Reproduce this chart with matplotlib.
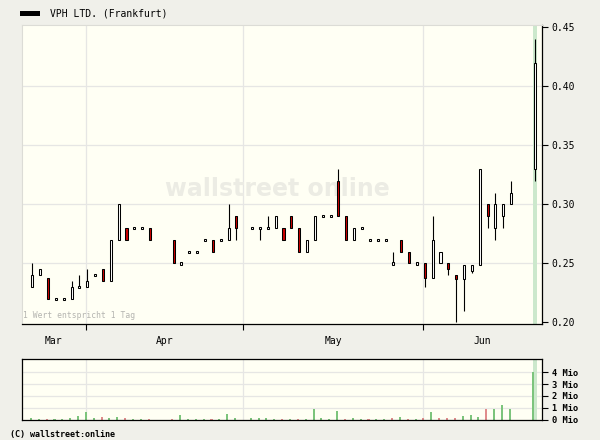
import matplotlib
matplotlib.use("Agg")
import matplotlib.pyplot as plt
from matplotlib.patches import Rectangle
import numpy as np

# trading day slots (gaps = holidays)
slots = [0, 1, 2, 3, 4, 5, 6, 7, 8, 9, 10, 11, 12, 13, 14, 15,
         18, 19, 20, 21, 22, 23, 24, 25, 26,
         28, 29, 30, 31, 32, 33, 34, 35, 36, 37, 38, 39, 40, 41, 42, 43, 44, 45,
         46, 47, 48, 49, 50, 51, 52, 53, 54, 55, 56, 57, 58, 59, 60, 61,
         64]

opens = [0.23, 0.24, 0.238, 0.22, 0.22, 0.22, 0.23, 0.23, 0.24, 0.245, 0.235, 0.27, 0.28, 0.28, 0.28, 0.28,
         0.27, 0.25, 0.26, 0.26, 0.27, 0.27, 0.27, 0.27, 0.29,
         0.28, 0.28, 0.28, 0.28, 0.28, 0.29, 0.28, 0.26, 0.27, 0.29, 0.29, 0.32, 0.29, 0.27, 0.28, 0.27, 0.27, 0.27,
         0.25, 0.27, 0.26, 0.25, 0.25, 0.238, 0.25, 0.25, 0.24, 0.237, 0.244, 0.249, 0.30, 0.28, 0.29, 0.30,
         0.33]
closes = [0.24, 0.245, 0.22, 0.22, 0.22, 0.23, 0.23, 0.235, 0.24, 0.235, 0.27, 0.30, 0.27, 0.28, 0.28, 0.27,
          0.25, 0.25, 0.26, 0.26, 0.27, 0.26, 0.27, 0.28, 0.28,
          0.28, 0.28, 0.28, 0.29, 0.27, 0.28, 0.26, 0.27, 0.29, 0.29, 0.29, 0.29, 0.27, 0.28, 0.28, 0.27, 0.27, 0.27,
          0.25, 0.26, 0.25, 0.25, 0.238, 0.27, 0.26, 0.245, 0.237, 0.249, 0.249, 0.33, 0.29, 0.30, 0.30, 0.31,
          0.42]
highs = [0.25, 0.245, 0.238, 0.22, 0.22, 0.235, 0.24, 0.245, 0.24, 0.245, 0.27, 0.30, 0.28, 0.28, 0.28, 0.28,
         0.27, 0.25, 0.26, 0.26, 0.27, 0.27, 0.27, 0.30, 0.29,
         0.28, 0.28, 0.29, 0.29, 0.28, 0.29, 0.28, 0.27, 0.29, 0.29, 0.29, 0.33, 0.29, 0.28, 0.28, 0.27, 0.27, 0.27,
         0.26, 0.27, 0.26, 0.25, 0.25, 0.29, 0.26, 0.25, 0.24, 0.249, 0.249, 0.33, 0.30, 0.31, 0.30, 0.32,
         0.44]
lows = [0.23, 0.24, 0.22, 0.22, 0.22, 0.22, 0.23, 0.23, 0.24, 0.235, 0.235, 0.27, 0.27, 0.28, 0.28, 0.27,
        0.25, 0.25, 0.26, 0.26, 0.27, 0.26, 0.27, 0.27, 0.27,
        0.28, 0.27, 0.28, 0.28, 0.27, 0.28, 0.26, 0.26, 0.27, 0.29, 0.29, 0.29, 0.27, 0.27, 0.28, 0.27, 0.27, 0.27,
        0.25, 0.26, 0.25, 0.25, 0.23, 0.238, 0.25, 0.24, 0.20, 0.21, 0.242, 0.249, 0.28, 0.27, 0.28, 0.30,
        0.32]

# volume in Mio, 'g' = green bar, 'r' = red bar
volume = [0.17, 0.08, 0.08, 0.08, 0.08, 0.17, 0.34, 0.68, 0.17, 0.25, 0.17, 0.25, 0.17, 0.08, 0.08, 0.08,
          0.08, 0.42, 0.08, 0.08, 0.08, 0.08, 0.08, 0.50, 0.17,
          0.17, 0.17, 0.17, 0.08, 0.08, 0.08, 0.08, 0.08, 0.93, 0.17, 0.08, 0.76, 0.08, 0.17, 0.08, 0.08, 0.08, 0.08,
          0.17, 0.25, 0.08, 0.08, 0.17, 0.68, 0.17, 0.17, 0.17, 0.34, 0.42, 0.25, 0.85, 0.93, 1.27, 0.93,
          4.05]
vol_col = ['g', 'g', 'r', 'g', 'g', 'g', 'g', 'g', 'g', 'r', 'g', 'g', 'r', 'g', 'g', 'r',
           'r', 'g', 'g', 'g', 'g', 'r', 'g', 'g', 'g',
           'g', 'g', 'g', 'g', 'r', 'g', 'r', 'g', 'g', 'g', 'g', 'g', 'r', 'g', 'g', 'r', 'g', 'g',
           'r', 'g', 'r', 'g', 'r', 'g', 'r', 'r', 'r', 'g', 'g', 'g', 'r', 'g', 'g', 'g',
           'g']

month_bounds = [6.8, 26.8, 49.8]
month_names = ["Mar", "Apr", "May", "Jun"]
price_ticks = [0.20, 0.25, 0.30, 0.35, 0.40, 0.45]
vol_ticks = [0, 1, 2, 3, 4]

BG = '#f0f0ea'
PLOT_BG = '#fffff4'
GRID = '#e6e6e4'
RED = '#cc0000'
GREEN_V = '#7cc47c'
RED_V = '#e08c8c'
BAND = '#cce8cc'
FONT = 'DejaVu Sans Mono'

x = np.array(slots, dtype=float)
o = np.array(opens); c = np.array(closes)
h = np.array(highs); l = np.array(lows)

xlim = (-1.31, 64.93)

fig = plt.figure(figsize=(6, 4.4), dpi=100, facecolor=BG)
ax = fig.add_axes([22/600, 1-324/440, 520/600, 299/440], facecolor=PLOT_BG)
axv = fig.add_axes([22/600, 1-420/440, 520/600, 61/440], facecolor=PLOT_BG)

# ---- price panel
for p in price_ticks[1:-1]:
    ax.axhline(p, color=GRID, lw=0.9, zorder=0)
for b in month_bounds:
    ax.axvline(b, color=GRID, lw=0.9, zorder=0)
ax.axvspan(x[-1]-0.25, x[-1]+0.25, color=BAND, lw=0, zorder=1)

ax.text(0.492, 0.45, "wallstreet online", transform=ax.transAxes, ha='center', va='center',
        fontsize=17, fontweight='bold', color='#ecece4', family='DejaVu Sans', zorder=1)

ax.vlines(x, l, h, color='black', lw=0.8, zorder=2)
body_lo = np.minimum(o, c)
body_h = np.maximum(np.abs(c - o), 0.0018)
fc = [RED if cc < oo else 'white' for oo, cc in zip(o, c)]
ax.bar(x, body_h, bottom=body_lo - np.where(np.abs(c - o) < 0.001, 0.0009, 0), width=0.26,
       color=fc, edgecolor='black', linewidth=0.75, zorder=3)

ax.set_xlim(*xlim)
ax.set_ylim(0.1987, 0.4521)
ax.yaxis.tick_right()
ax.set_yticks(price_ticks)
ax.set_yticklabels(['%.2f' % p for p in price_ticks], family=FONT, fontsize=7)
ax.set_xticks(month_bounds)
ax.set_xticklabels([])
ax.tick_params(axis='y', length=4, width=0.8, pad=3)
ax.tick_params(axis='x', length=4, width=0.8)
for s in ['left', 'top']:
    ax.spines[s].set_color('#dcdcd6')
    ax.spines[s].set_linewidth(0.8)
for s in ['right', 'bottom']:
    ax.spines[s].set_color('black')
    ax.spines[s].set_linewidth(0.9)

mids = [(xlim[0] + month_bounds[0]) / 2] + \
       [(month_bounds[i] + month_bounds[i+1]) / 2 for i in range(len(month_bounds)-1)] + \
       [(month_bounds[-1] + xlim[1]) / 2]
for m, name in zip(mids, month_names):
    ax.text(m, -0.058, name, transform=ax.get_xaxis_transform(), ha='center', va='center',
            family=FONT, fontsize=7)

ax.text(0.002, 0.012, "1 Wert entspricht 1 Tag", transform=ax.transAxes, ha='left', va='bottom',
        family=FONT, fontsize=5.8, color='#b4b4b0', zorder=4)

# ---- volume panel
for v in vol_ticks[1:]:
    axv.axhline(v, color=GRID, lw=0.9, zorder=0)
for b in month_bounds:
    axv.axvline(b, color=GRID, lw=0.9, zorder=0)
axv.axvspan(x[-1]-0.25, x[-1]+0.25, color=BAND, lw=0, zorder=1)
vc = [GREEN_V if k == 'g' else RED_V for k in vol_col]
axv.bar(x - 0.17, volume, width=0.26, color=vc, lw=0, zorder=2)
axv.set_xlim(*xlim)
axv.set_ylim(-0.04, 5.13)
axv.set_xticks([])
axv.yaxis.tick_right()
axv.set_yticks(vol_ticks)
axv.set_yticklabels(['%d Mio' % v for v in vol_ticks], family=FONT, fontsize=6.3, fontweight='bold')
axv.tick_params(axis='y', length=4, width=0.8, pad=3)
for s in axv.spines.values():
    s.set_color('black')
    s.set_linewidth(0.9)

# ---- header / footer
fig.patches.append(Rectangle((20/600, 1-16/440), 20/600, 5/440, transform=fig.transFigure,
                             facecolor='black', edgecolor='none'))
fig.text(50/600, 1-14/440, "VPH LTD. (Frankfurt)", family=FONT, fontsize=7, ha='left', va='center')
fig.text(10/600, 1-434/440, "(C) wallstreet:online", family=FONT, fontsize=6, fontweight='bold',
         ha='left', va='center')

fig.savefig("out.png", dpi=100, facecolor=BG)
